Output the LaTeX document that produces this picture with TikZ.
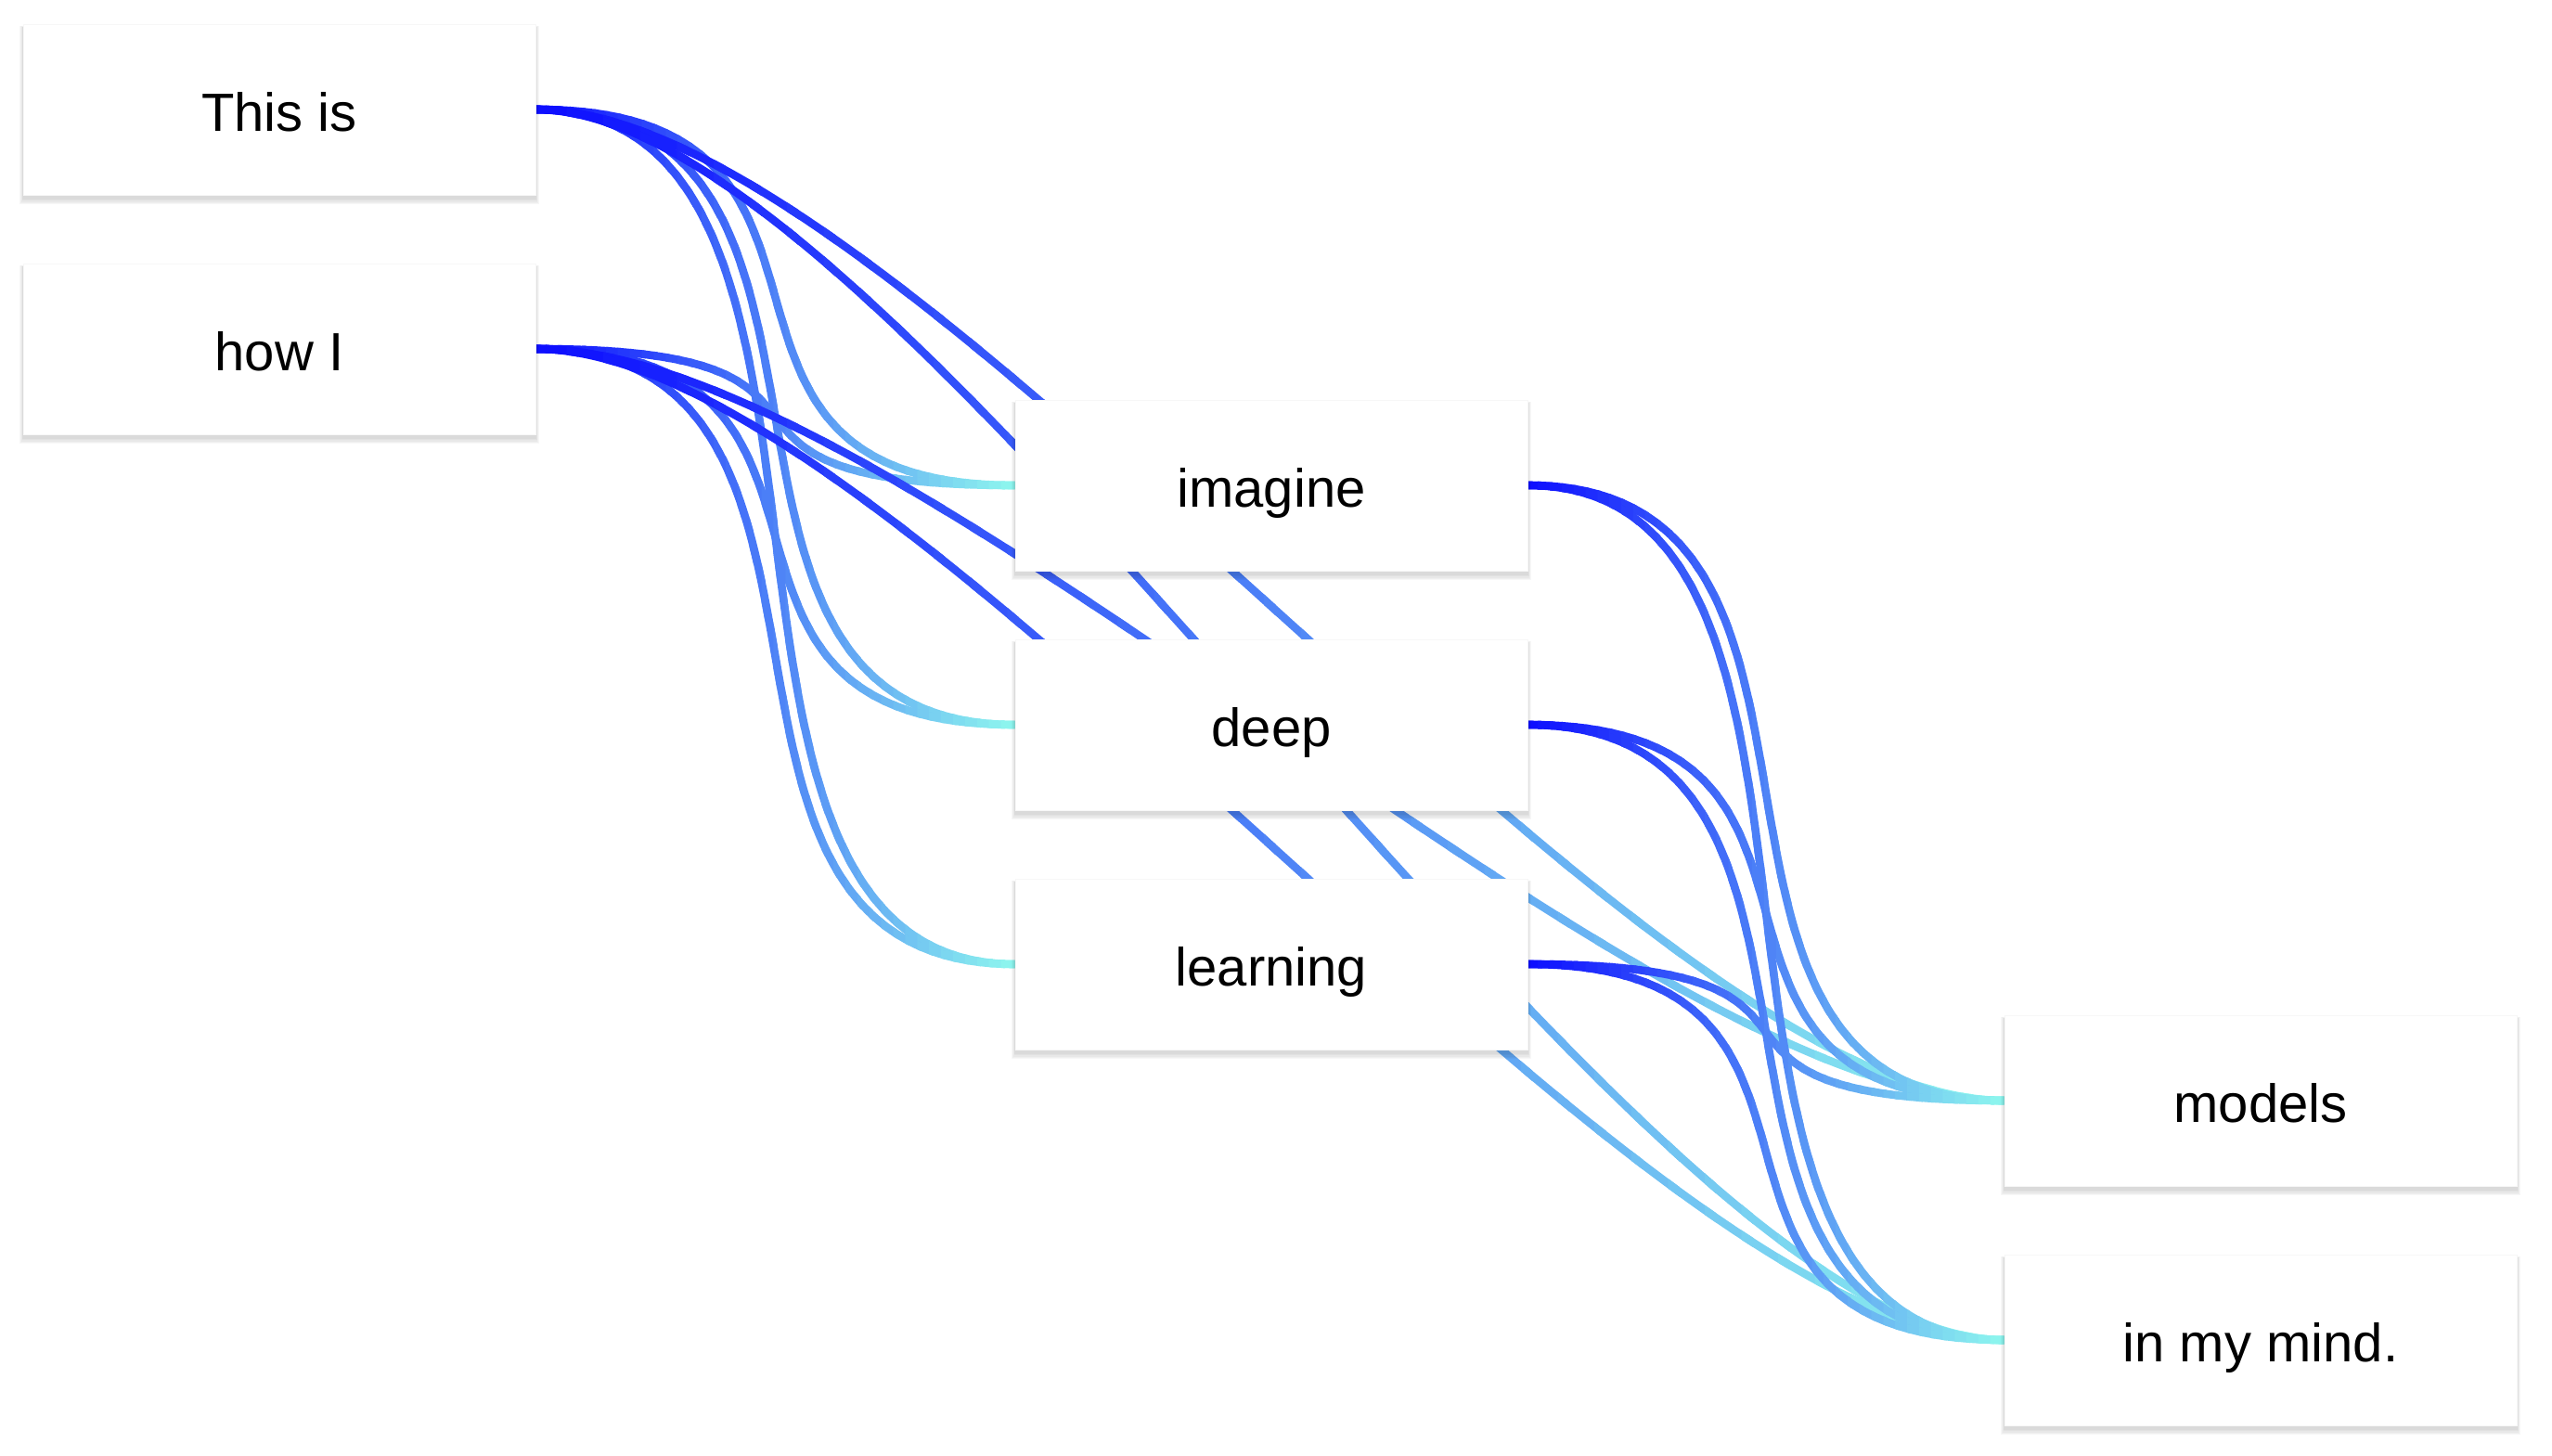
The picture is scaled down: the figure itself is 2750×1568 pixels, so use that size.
\documentclass[tikz,border=0pt]{standalone}
\usepackage{fontspec}
\setmainfont{Liberation Sans}
\usetikzlibrary{calc}
\pgfdeclarelayer{links}
\pgfdeclarelayer{shade}
\pgfsetlayers{links,shade,main}
\definecolor{cA}{RGB}{12,12,255}
\definecolor{cB}{RGB}{142,247,238}
\def\nstrips{40}
\newcommand\gradlink[3]{%
  \foreach \i in {1,...,\nstrips}{%
    \pgfmathsetmacro\fa{(\i-1)/\nstrips-0.004}%
    \pgfmathsetmacro\fb{\i/\nstrips+0.004}%
    \pgfmathsetmacro\mixv{100*(\i-0.5)/\nstrips}%
    \begin{scope}
      \coordinate (xa) at ($(#1.east)!\fa!(#2.west)$);
      \coordinate (xb) at ($(#1.east)!\fb!(#2.west)$);
      \clip (xa |- top) rectangle (xb |- bot);
      \draw[linkline, draw=cB!\mixv!cA] (#1.east) .. controls +(#3,0) and +(-#3,0) .. (#2.west);
    \end{scope}
  }%
}
\begin{document}
\begin{tikzpicture}[x=0.5pt,y=-0.5pt,
  word/.style={fill=white, draw=black!3, line width=0.4pt,
    minimum width=276pt, minimum height=92pt, inner sep=0pt,
    text height=29pt, text depth=6pt,
    font=\fontsize{29}{35}\selectfont},
  linkline/.style={line width=4.3pt},
  boxshade/.style={fill=black, opacity=0.032}]
\useasboundingbox (0,0) rectangle (2750,1568);
\coordinate (top) at (0,0);
\coordinate (bot) at (0,1568);

\node[word] (n1) at (301,118) {This is};
\node[word] (n2) at (301,376) {how I};
\node[word] (m1) at (1370,523) {imagine};
\node[word] (m2) at (1370,781) {deep};
\node[word] (m3) at (1370,1039) {learning};
\node[word] (o1) at (2436,1186) {models};
\node[word] (o2) at (2436,1444) {in my mind.};

\begin{pgfonlayer}{shade}
\foreach \n in {n1,n2,m1,m2,m3,o1,o2}{
  \foreach \e in {0.4,1.1,1.8,2.5,3.2}{
    \fill[boxshade] ([xshift=-0.5*\e pt, yshift=-\e pt-1.8pt]\n.south west) rectangle ([xshift=0.5*\e pt, yshift=0.3*\e pt-2pt]\n.north east);
  }
}
\end{pgfonlayer}

\begin{pgfonlayer}{links}
% first layer to second layer
\gradlink{n1}{m1}{400}
\gradlink{n1}{m2}{400}
\gradlink{n1}{m3}{400}
\gradlink{n2}{m1}{400}
\gradlink{n2}{m2}{400}
\gradlink{n2}{m3}{400}
% first layer to third layer
\gradlink{n1}{o1}{400}
\gradlink{n1}{o2}{400}
\gradlink{n2}{o1}{400}
\gradlink{n2}{o2}{400}
% second layer to third layer
\gradlink{m1}{o1}{400}
\gradlink{m1}{o2}{400}
\gradlink{m2}{o1}{400}
\gradlink{m2}{o2}{400}
\gradlink{m3}{o1}{400}
\gradlink{m3}{o2}{400}
\end{pgfonlayer}
\end{tikzpicture}
\end{document}
